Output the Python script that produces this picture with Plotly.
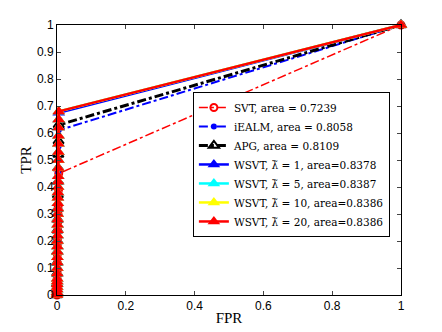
import plotly.graph_objects as go

# ROC data
svt_fpr = [0, 0.0002, 0.0004, 0.0006, 0.0008, 0.001, 0.0013, 0.0016, 0.002, 0.0025, 0.003, 0.0035, 0.004, 0.0045, 0.005, 1]
svt_tpr = [0, 0.03, 0.06, 0.09, 0.12, 0.15, 0.18, 0.21, 0.24, 0.27, 0.3, 0.33, 0.36, 0.39, 0.45, 1]

ealm_fpr = [0, 0.0002, 0.0004, 0.0006, 0.0008, 0.001, 0.0013, 0.0016, 0.002, 0.0025, 0.003, 0.0035, 0.004, 0.0045, 0.005, 1]
ealm_tpr = [0, 0.04, 0.08, 0.12, 0.16, 0.2, 0.24, 0.28, 0.32, 0.36, 0.4, 0.45, 0.5, 0.55, 0.61, 1]

apg_fpr = [0, 0.0002, 0.0004, 0.0006, 0.0008, 0.001, 0.0013, 0.0016, 0.002, 0.0025, 0.003, 0.0035, 0.004, 0.0045, 0.005, 1]
apg_tpr = [0, 0.04, 0.08, 0.12, 0.16, 0.2, 0.24, 0.28, 0.32, 0.37, 0.42, 0.47, 0.52, 0.57, 0.63, 1]

wsvt_fpr = [0, 0.0001, 0.0002, 0.0003, 0.0004, 0.0005, 0.0006, 0.0007, 0.0008, 0.0009, 0.001, 0.0011,
            0.0012, 0.0013, 0.0014, 0.0015, 0.0016, 0.0017, 0.0018, 0.002, 0.0022, 0.0024, 0.0026, 0.0028,
            0.003, 0.0032, 0.0034, 0.0036, 0.0038, 0.004, 0.0042, 0.0044, 0.0046, 0.0048, 0.005, 1]
wsvt1_tpr = [0, 0.005, 0.01, 0.02, 0.03, 0.04, 0.05, 0.06, 0.08, 0.1, 0.12, 0.14, 0.16, 0.18, 0.2, 0.22,
             0.24, 0.26, 0.28, 0.3, 0.32, 0.34, 0.36, 0.38, 0.4, 0.42, 0.44, 0.47, 0.5, 0.53, 0.56, 0.59,
             0.62, 0.65, 0.675, 1]
wsvt5_tpr = [0, 0.005, 0.01, 0.02, 0.03, 0.04, 0.05, 0.06, 0.08, 0.1, 0.12, 0.14, 0.16, 0.18, 0.2, 0.22,
             0.24, 0.26, 0.28, 0.3, 0.32, 0.34, 0.36, 0.38, 0.4, 0.42, 0.44, 0.47, 0.5, 0.53, 0.56, 0.59,
             0.62, 0.65, 0.68, 1]
wsvt10_tpr = [0, 0.005, 0.01, 0.02, 0.03, 0.04, 0.05, 0.06, 0.08, 0.1, 0.12, 0.14, 0.16, 0.18, 0.2, 0.22,
              0.24, 0.26, 0.28, 0.3, 0.32, 0.34, 0.36, 0.38, 0.4, 0.42, 0.44, 0.47, 0.5, 0.53, 0.56, 0.59,
              0.62, 0.65, 0.68, 1]
wsvt20_tpr = [0, 0.005, 0.01, 0.02, 0.03, 0.04, 0.05, 0.06, 0.08, 0.1, 0.12, 0.14, 0.16, 0.18, 0.2, 0.22,
              0.24, 0.26, 0.28, 0.3, 0.32, 0.34, 0.36, 0.38, 0.4, 0.42, 0.44, 0.47, 0.5, 0.53, 0.56, 0.59,
              0.62, 0.65, 0.68, 1]

serif = "Liberation Serif"

fig = go.Figure()

fig.add_trace(go.Scatter(x=svt_fpr, y=svt_tpr, mode="lines+markers", cliponaxis=False,
                         name="SVT, area = 0.7239",
                         line=dict(color="red", width=1.5, dash="dashdot"),
                         marker=dict(symbol="circle-open", size=7, color="red", line=dict(width=2))))
fig.add_trace(go.Scatter(x=ealm_fpr, y=ealm_tpr, mode="lines+markers", cliponaxis=False,
                         name="iEALM, area = 0.8058",
                         line=dict(color="blue", width=2, dash="dashdot"),
                         marker=dict(symbol="circle", size=6, color="blue")))
fig.add_trace(go.Scatter(x=apg_fpr, y=apg_tpr, mode="lines+markers", cliponaxis=False,
                         name="APG, area = 0.8109",
                         line=dict(color="black", width=3, dash="dashdot"),
                         marker=dict(symbol="triangle-up-open", size=9, color="black", line=dict(width=2))))

wsvt = [("blue", "1", "0.8378", wsvt1_tpr),
        ("cyan", "5", "0.8387", wsvt5_tpr),
        ("yellow", "10", "0.8386", wsvt10_tpr),
        ("red", "20", "0.8386", wsvt20_tpr)]
for col, lam, area, tpr in wsvt:
    fig.add_trace(go.Scatter(x=wsvt_fpr, y=tpr, mode="lines+markers", cliponaxis=False,
                             name="WSVT, λ\u0303 = " + lam + ", area=" + area,
                             line=dict(color=col, width=2.5),
                             marker=dict(symbol="triangle-up", size=11, color=col)))

# page has an 8px body margin, so the figure is a bit smaller than the window
fig.update_layout(
    width=434, height=324,
    margin=dict(l=49, r=41, t=17, b=37),
    paper_bgcolor="white", plot_bgcolor="white",
    font=dict(family="Liberation Sans", size=12, color="black"),
    showlegend=True,
    legend=dict(x=0.395, y=0.752, xanchor="left", yanchor="top",
                bgcolor="white", bordercolor="black", borderwidth=1,
                font=dict(family="DejaVu Serif", size=10.5), tracegroupgap=0,
                itemwidth=30),
    xaxis=dict(range=[0, 1], tickvals=[0, 0.2, 0.4, 0.6, 0.8, 1],
               ticktext=["0", "0.2", "0.4", "0.6", "0.8", "1"], automargin=False,
               ticks="inside", ticklen=4, showgrid=False, zeroline=False,
               showline=True, linecolor="black", linewidth=1, mirror="ticks",
               title=dict(text="FPR", font=dict(family=serif, size=15), standoff=0)),
    yaxis=dict(range=[0, 1], tickvals=[0, 0.1, 0.2, 0.3, 0.4, 0.5, 0.6, 0.7, 0.8, 0.9, 1],
               ticktext=["0", "0.1", "0.2", "0.3", "0.4", "0.5", "0.6", "0.7", "0.8", "0.9", "1"],
               automargin=False,
               ticks="inside", ticklen=4, showgrid=False, zeroline=False,
               showline=True, linecolor="black", linewidth=1, mirror="ticks",
               title=dict(text="TPR", font=dict(family=serif, size=15), standoff=1)),
)

fig.write_html("out.html")
